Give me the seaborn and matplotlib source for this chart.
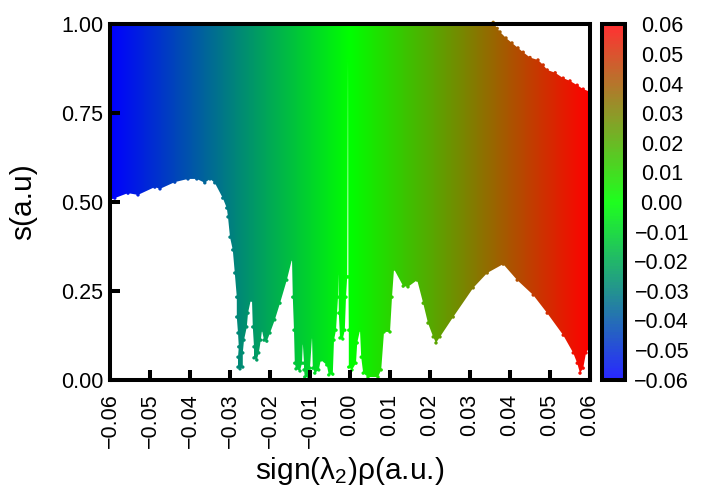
import numpy as np
import pandas as pd
import matplotlib
matplotlib.use("Agg")
import matplotlib.pyplot as plt
import seaborn as sns
from matplotlib.cm import ScalarMappable
from matplotlib.colors import LinearSegmentedColormap, Normalize
from matplotlib.patches import Polygon

# lower edge of the point cloud
lower_rho = [-0.0608, -0.0600, -0.0588, -0.0555, -0.0530, -0.0488, -0.0475, -0.0438, -0.0405, -0.0383,
             -0.0363, -0.0350, -0.0338, -0.0318, -0.0308, -0.0305, -0.0300, -0.0293, -0.0288, -0.0283,
             -0.0283, -0.0280, -0.0278, -0.0280, -0.0280, -0.0275, -0.0268, -0.0268, -0.0265, -0.0258,
             -0.0255, -0.0248, -0.0245, -0.0243, -0.0240, -0.0240, -0.0233, -0.0228, -0.0223, -0.0220,
             -0.0215, -0.0208, -0.0200, -0.0188, -0.0175, -0.0158, -0.0145, -0.0143, -0.0140, -0.0138,
             -0.0135, -0.0125, -0.0120, -0.0118, -0.0115, -0.0115, -0.0113, -0.0103, -0.0100, -0.0095,
             -0.0093, -0.0088, -0.0078, -0.0073, -0.0058, -0.0053, -0.0043, -0.0040, -0.0035, -0.0030,
             -0.0029, -0.0028, -0.0025, -0.0018, -0.0013, -0.0010, -0.0007, -0.0005, -0.0004, -0.0003,
             -0.0003, 0.0005, 0.0015, 0.0018, 0.0025, 0.0028, 0.0033, 0.0045, 0.0070, 0.0078,
             0.0085, 0.0100, 0.0105, 0.0110, 0.0133, 0.0145, 0.0168, 0.0183, 0.0195, 0.0208,
             0.0215, 0.0225, 0.0258, 0.0308, 0.0343, 0.0383, 0.0418, 0.0458, 0.0493, 0.0533,
             0.0558, 0.0568, 0.0575, 0.0583, 0.0590, 0.0606]
lower_s = [0.506, 0.506, 0.511, 0.525, 0.520, 0.542, 0.537, 0.556, 0.565, 0.565,
           0.554, 0.565, 0.554, 0.511, 0.483, 0.458, 0.401, 0.365, 0.300, 0.232,
           0.176, 0.131, 0.092, 0.063, 0.035, 0.030, 0.035, 0.075, 0.111, 0.148,
           0.187, 0.224, 0.224, 0.148, 0.092, 0.061, 0.055, 0.075, 0.111, 0.139,
           0.111, 0.108, 0.131, 0.168, 0.215, 0.280, 0.339, 0.232, 0.139, 0.046,
           0.030, 0.024, 0.046, 0.103, 0.046, 0.027, 0.007, 0.007, 0.032, 0.120,
           0.032, 0.018, 0.027, 0.055, 0.041, 0.013, 0.015, 0.111, 0.139, 0.232,
           0.300, 0.187, 0.117, 0.114, 0.139, 0.232, 0.289, 0.900, 0.289, 0.139,
           0.035, 0.027, 0.046, 0.103, 0.139, 0.063, 0.018, 0.007, 0.007, 0.027,
           0.134, 0.134, 0.232, 0.311, 0.263, 0.261, 0.280, 0.215, 0.159, 0.120,
           0.103, 0.120, 0.176, 0.258, 0.300, 0.325, 0.280, 0.238, 0.187, 0.125,
           0.075, 0.046, 0.018, 0.032, 0.075, 0.103]

# upper edge of the point cloud
upper_rho = [-0.0608, 0.0358, 0.0368, 0.0375, 0.0390, 0.0405, 0.0420, 0.0433, 0.0450, 0.0470,
             0.0483, 0.0493, 0.0513, 0.0533, 0.0550, 0.0568, 0.0583, 0.0606]
upper_s = [1.006, 1.006, 0.989, 0.979, 0.962, 0.948, 0.934, 0.922, 0.907, 0.900,
           0.886, 0.872, 0.864, 0.849, 0.841, 0.829, 0.818, 0.808]

x_ticks = [-0.06, -0.05, -0.04, -0.03, -0.02, -0.01, 0.00, 0.01, 0.02, 0.03, 0.04, 0.05, 0.06]
y_ticks = [0.00, 0.25, 0.50, 0.75, 1.00]

sns.set_theme(style="ticks")
plt.rcParams["font.family"] = ["Liberation Sans", "DejaVu Sans"]
plt.rcParams["mathtext.fontset"] = "custom"
plt.rcParams["mathtext.rm"] = "Liberation Sans"
plt.rcParams["mathtext.it"] = "Liberation Sans"

points_cmap = LinearSegmentedColormap.from_list("bgr", ["#0000ff", "#00ff00", "#ff0000"], N=512)
bar_cmap = LinearSegmentedColormap.from_list("bgr_bar", ["#2828ff", "#1eff1e", "#ff3232"], N=128)
norm = Normalize(-0.06, 0.06)

W, H = 720, 504
frame = 2.9

fig = plt.figure(figsize=(W / 100, H / 100), dpi=100, facecolor="white")
ax = fig.add_axes([110 / W, (H - 379.5) / H, 480 / W, 355 / H])
cax = fig.add_axes([601.5 / W, (H - 379.5) / H, 23.5 / W, 355 / H])

# colour gradient cut down to the outline of the cloud
outline = np.column_stack([lower_rho + upper_rho[::-1], lower_s + upper_s[::-1]])
clip = Polygon(outline, closed=True, transform=ax.transData)
grad = np.linspace(-0.0608, 0.0608, 960).reshape(1, -1)
im = ax.imshow(grad, cmap=points_cmap, norm=norm, aspect="auto", origin="lower",
               extent=(-0.0608, 0.0608, 0, 1.006), zorder=1, interpolation="bilinear")
im.set_clip_path(clip)
im.set_clip_box(None)

# round points along the edge, they give the bumpy look
edge = pd.DataFrame({"rho": lower_rho[1:-1] + upper_rho[1:-1], "s": lower_s[1:-1] + upper_s[1:-1]})
sns.scatterplot(data=edge, x="rho", y="s", hue="rho", palette=points_cmap, hue_norm=norm,
                s=6, linewidth=0, legend=False, ax=ax, zorder=2, clip_on=False)

ax.set_xlim(-0.06, 0.06)
ax.set_ylim(0, 1)
ax.set_axisbelow(False)
ax.set_xticks(x_ticks)
ax.set_xticklabels([f"{t:.2f}".replace("-", "\u2212") for t in x_ticks], rotation=90)
ax.set_yticks(y_ticks)
ax.set_yticklabels([f"{t:.2f}" for t in y_ticks])
ax.tick_params(axis="both", direction="in", length=7, width=frame, color="black",
               labelsize=15.5, labelcolor="black")
ax.tick_params(axis="x", pad=10)
ax.tick_params(axis="y", pad=5)
for spine in ax.spines.values():
    spine.set_visible(True)
    spine.set_linewidth(frame)
    spine.set_color("black")
    spine.set_zorder(5)

ax.set_xlabel(r"sign($\mathrm{\lambda}_{2}$)$\mathrm{\rho}$(a.u.)", fontsize=21.5, color="black")
ax.xaxis.set_label_coords(0.5, -0.212)
ax.set_ylabel("s(a.u)", fontsize=21.5, color="black")
ax.yaxis.set_label_coords(-0.152, 0.5)

# colour bar
cbar = fig.colorbar(ScalarMappable(norm=norm, cmap=bar_cmap), cax=cax,
                    ticks=np.round(np.arange(-0.06, 0.061, 0.01), 2))
cbar.outline.set_linewidth(frame)
cbar.outline.set_edgecolor("black")
cax.tick_params(axis="y", direction="in", right=True, left=False, length=5.5, width=frame,
                color="black", labelsize=15.5, labelcolor="black", pad=26.5)
cax.set_yticklabels([f"{t:.2f}".replace("-", "\u2212") for t in cbar.get_ticks()], ha="center")

fig.savefig("out.png", dpi=100)
